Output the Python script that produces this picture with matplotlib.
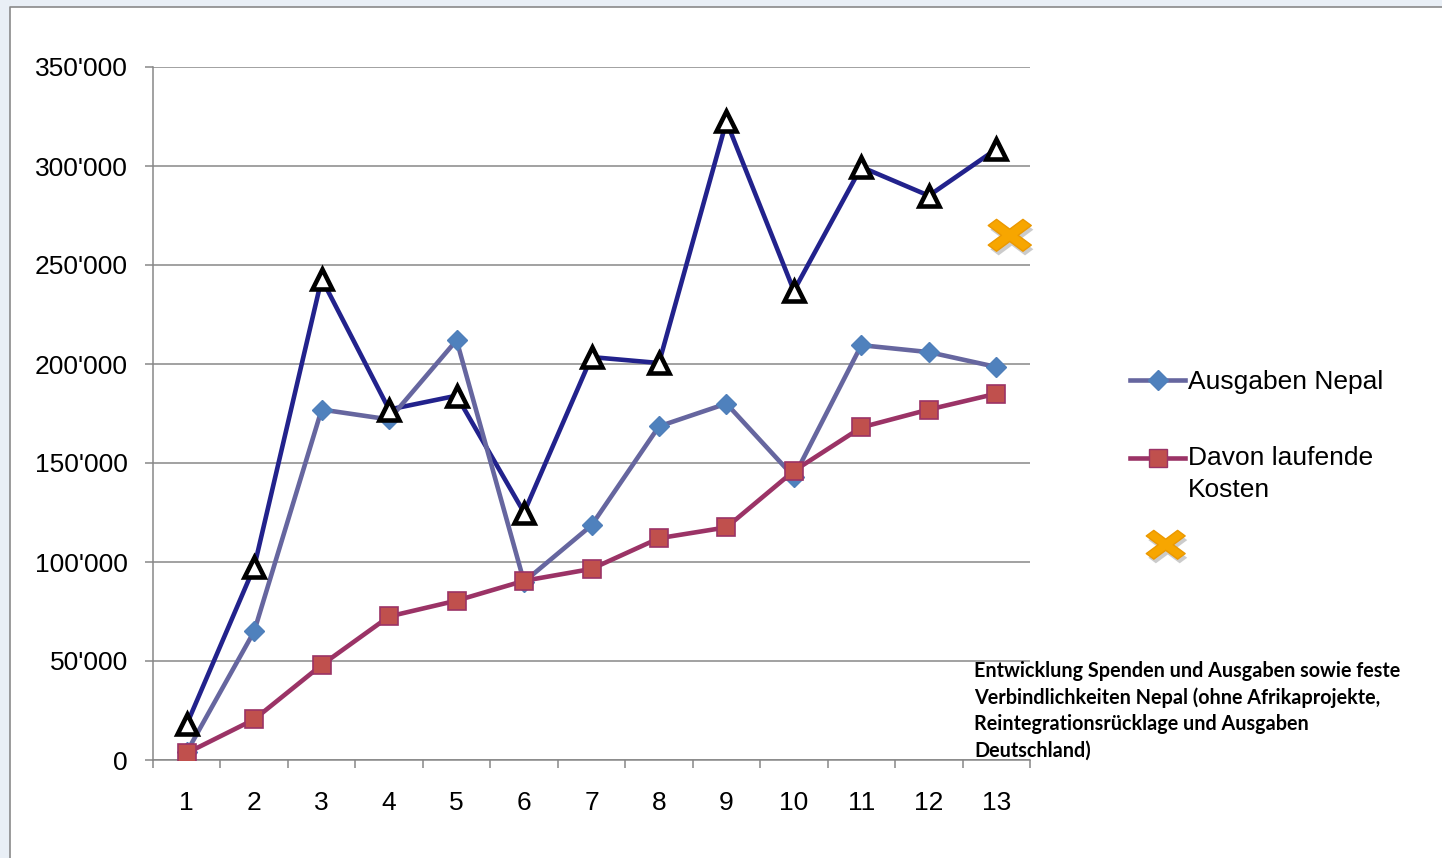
import matplotlib.pyplot as plt
import matplotlib.patches as mpatches
import matplotlib.patheffects as pe
from matplotlib.lines import Line2D
from matplotlib.path import Path
from matplotlib.transforms import Affine2D
from matplotlib.ticker import FuncFormatter
import numpy as np

# data
kategorien = list(range(1, 14))
spenden = [18000, 97500, 243000, 177000, 184000, 125000, 203500,
           200500, 322500, 237000, 299500, 285000, 308500]
ausgaben_nepal = [4000, 65000, 177000, 172000, 212000, 90000, 118500,
                  168500, 180000, 143000, 209500, 206000, 198500]
laufende_kosten = [3500, 20500, 48000, 72500, 80500, 90500, 96500,
                   112000, 117500, 146000, 168000, 177000, 185000]
verbindlichkeiten_x = [13.2]
verbindlichkeiten = [265000]

legende_labels = ['Ausgaben Nepal', 'Davon laufende\nKosten']
textbox = ('Entwicklung Spenden und Ausgaben sowie feste\n'
           'Verbindlichkeiten Nepal (ohne Afrikaprojekte,\n'
           'Reintegrationsrücklage und Ausgaben\n'
           'Deutschland)')

plt.rcParams['font.family'] = ['Liberation Sans', 'DejaVu Sans']

W, H = 1442, 858
fig = plt.figure(figsize=(W / 100, H / 100), dpi=100)
fig.patch.set_facecolor('#e9eff6')

# white chart area, grey border on top and left only
fig.patches.append(mpatches.Rectangle((10 / W, 0), 1 - 10 / W, 1 - 7 / H,
                                      transform=fig.transFigure,
                                      facecolor='white', edgecolor='none',
                                      zorder=-5))
fig.lines.append(Line2D([10 / W, 10 / W, 1], [0, 1 - 7 / H, 1 - 7 / H],
                        transform=fig.transFigure, color='#8a8a8a',
                        lw=1.2, zorder=-4))

ax = fig.add_axes([153 / W, (H - 760) / H, 877 / W, (760 - 67) / H])
ax.set_facecolor('none')

# X marker stretched horizontally
t = 0.24
plus = np.array([(t, t), (1, t), (1, -t), (t, -t), (t, -1), (-t, -1),
                 (-t, -t), (-1, -t), (-1, t), (-t, t), (-t, 1), (t, 1), (t, t)])
ang = np.deg2rad(45)
rot = np.array([[np.cos(ang), -np.sin(ang)], [np.sin(ang), np.cos(ang)]])
xverts = plus @ rot.T
xverts[:, 0] *= 1.35
xmarker = Path(xverts, closed=True)

navy = '#22228c'
grau = '#66669f'
rot_l = '#9b3366'
lw = 3.3

# lines first, then markers
ax.plot(kategorien, spenden, '-', color=navy, lw=lw, zorder=2)
ax.plot(kategorien, ausgaben_nepal, '-', color=grau, lw=lw, zorder=2.1)
ax.plot(kategorien, laufende_kosten, '-', color=rot_l, lw=lw, zorder=2.2)

ax.plot(kategorien, ausgaben_nepal, 'D', ls='none', ms=10.5, mfc='#4f81bd',
        mec='#4f7fba', mew=1, zorder=3)
ax.plot(kategorien, laufende_kosten, 's', ls='none', ms=13.5, mfc='#c0504d',
        mec='#9b3366', mew=1.2, zorder=3.1)
ax.plot(kategorien, spenden, '^', ls='none', ms=15, mfc='white',
        mec='black', mew=3.3, zorder=3.2)

schatten = [pe.SimplePatchShadow(offset=(1.5, -3), shadow_rgbFace='#999999',
                                 alpha=0.5), pe.Normal()]
ax.plot(verbindlichkeiten_x, verbindlichkeiten, ls='none', marker=xmarker,
        ms=31, mfc='#f7a600', mec='#eb9800', mew=1, zorder=4,
        clip_on=False, path_effects=schatten)

ax.set_xlim(0.5, 13.5)
ax.set_ylim(0, 350000)
ax.set_yticks(np.arange(0, 350001, 50000))
ax.yaxis.set_major_formatter(FuncFormatter(lambda v, p: f'{int(v):,}'.replace(',', "'")))
ax.set_xticks(kategorien)
ax.set_xticks(np.arange(0.5, 13.6, 1), minor=True)
ax.grid(axis='y', color='#878787', lw=1.1, zorder=1)
ax.set_axisbelow(True)

for s in ['top', 'right']:
    ax.spines[s].set_visible(False)
for s in ['left', 'bottom']:
    ax.spines[s].set_color('#878787')
    ax.spines[s].set_linewidth(1.1)

ax.tick_params(axis='y', length=6, width=1.1, color='#878787', pad=12,
               labelsize=19)
ax.tick_params(axis='x', which='major', length=0, pad=22, labelsize=19)
ax.tick_params(axis='x', which='minor', length=5.5, width=1.1, color='#878787')

handles = [
    Line2D([], [], color=grau, lw=lw, marker='D', ms=10.5, mfc='#4f81bd', mec='#4f7fba'),
    Line2D([], [], color=rot_l, lw=lw, marker='s', ms=13.5, mfc='#c0504d', mec='#9b3366'),
]
leg = fig.legend(handles, legende_labels, loc='upper left',
                 bbox_to_anchor=(1130 / W, 1 - 370 / H), frameon=False,
                 fontsize=19, handlelength=2.1, handletextpad=0.1,
                 labelspacing=1.98, borderaxespad=0, borderpad=0)
for txt in leg.get_texts():
    txt.set_linespacing(1.4)
# align the second handle with the first text line
h2 = leg.legend_handles[1]
h2.set_transform(h2.get_transform() + Affine2D().translate(0, 16))

x_handle = [Line2D([], [], ls='none', marker=xmarker, ms=28, mfc='#f7a600',
                   mec='#eb9800', path_effects=schatten)]
leg2 = fig.legend(x_handle, [''], loc='center left',
                  bbox_to_anchor=(1138 / W, 1 - 547 / H), frameon=False,
                  fontsize=19, handlelength=2.1, handletextpad=0.1,
                  borderaxespad=0, borderpad=0)

fig.text(974 / W, 1 - 661 / H, textbox, ha='left', va='top',
         fontsize=14.2, fontweight='bold', family=['Lato', 'DejaVu Sans'],
         linespacing=1.39)

fig.savefig('out.png', dpi=100, facecolor=fig.get_facecolor())
